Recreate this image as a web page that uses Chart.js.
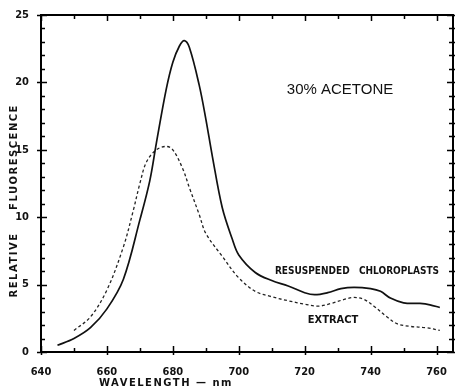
<!DOCTYPE html>
<html>
<head>
<meta charset="utf-8">
<script src="https://cdn.jsdelivr.net/npm/chart.js@4.4.1/dist/chart.umd.min.js"></script>
<style>
  html, body { margin: 0; padding: 0; background: #fff; }
  #wrap { width: 456px; height: 391px; }
</style>
</head>
<body>
<div id="wrap"><canvas id="myChart" width="456" height="391"></canvas></div>
<script>
// wavelengths (nm) and relative fluorescence
const chloroWave = [645, 650, 655, 660, 665, 670, 673, 675, 678, 680, 682, 683.5, 685, 688, 690, 692, 695, 698, 700, 705, 710, 715, 720, 723, 727, 731, 735, 740, 743, 746, 750, 755, 758, 761]
const chloroVals = [0.5, 1.0, 1.8, 3.2, 5.4, 9.8, 12.7, 15.5, 19.5, 21.5, 22.7, 23.1, 22.6, 19.8, 17.3, 14.5, 10.7, 8.4, 7.2, 5.9, 5.3, 4.9, 4.4, 4.25, 4.4, 4.7, 4.8, 4.7, 4.5, 4.0, 3.65, 3.6, 3.5, 3.3]

const extractWave = [650, 655, 660, 665, 668, 670, 672, 675, 678, 680, 683, 685, 688, 690, 695, 700, 705, 710, 715, 720, 724, 728, 732, 735, 738, 741, 745, 748, 752, 757, 761]
const extractVals = [1.6, 2.6, 4.6, 7.8, 10.5, 12.5, 14.1, 15.0, 15.25, 15.0, 13.6, 12.2, 10.2, 8.8, 7.1, 5.5, 4.5, 4.1, 3.8, 3.55, 3.4, 3.6, 3.9, 4.05, 3.9, 3.4, 2.6, 2.1, 1.9, 1.8, 1.6]

const xTicks = [640, 660, 680, 700, 720, 740, 760]
const yTicks = [0, 5, 10, 15, 20, 25]

const toPoints = (xs, ys) => xs.map((x, i) => ({x: x, y: ys[i]}))

// frame, inward ticks and the lettering
const frameAndText = {
  id: "frameAndText",
  afterDraw(chart) {
    const c = chart.ctx
    const a = chart.chartArea
    const xs = chart.scales.x
    const ys = chart.scales.y
    c.save()
    c.strokeStyle = "#000"
    c.lineWidth = 2
    c.strokeRect(a.left, a.top, a.right - a.left, a.bottom - a.top)

    c.lineWidth = 1.5
    c.beginPath()
    for (let v = 640; v <= 760; v += 10) {
      const px = Math.round(xs.getPixelForValue(v)) + 0.5
      const major = v % 20 === 0
      c.moveTo(px, a.bottom + (major ? 3 : 0))
      c.lineTo(px, a.bottom - (major ? 6 : 4))
      c.moveTo(px, a.top - 1)
      c.lineTo(px, a.top + (major ? 6 : 4))
    }
    for (let v = 0; v <= 25; v += 1) {
      const py = Math.round(ys.getPixelForValue(v)) + 0.5
      const major = v % 5 === 0
      c.moveTo(a.left - (major ? 4 : 0), py)
      c.lineTo(a.left + (major ? 6 : 4), py)
      c.moveTo(a.right + 2, py)
      c.lineTo(a.right - (major ? 6 : 4), py)
    }
    c.stroke()

    c.fillStyle = "#111"
    c.textBaseline = "middle"
    c.textAlign = "center"
    c.font = "15px 'Liberation Sans'"
    c.fillText("30% ACETONE", 340, 90)

    c.font = "bold 10px 'DejaVu Sans Condensed', 'DejaVu Sans'"
    c.fillText("RESUSPENDED   CHLOROPLASTS", 357, 271)
    c.font = "bold 11px 'DejaVu Sans Condensed', 'DejaVu Sans'"
    c.fillText("EXTRACT", 333, 320)

    c.letterSpacing = "1.5px"
    c.font = "bold 10px 'DejaVu Sans'"
    c.fillText("WAVELENGTH \u2014 nm", 166, 383)

    c.translate(14, 0)
    c.rotate(-Math.PI / 2)
    c.fillText("RELATIVE", -265, 0)
    c.fillText("FLUORESCENCE", -157, 0)
    c.restore()
  }
}

const ctx = document.getElementById("myChart")

new Chart(ctx, {
  type: "line",
  data: {
    datasets: [{
      label: "Resuspended chloroplasts",
      data: toPoints(chloroWave, chloroVals),
      borderColor: "#111",
      borderWidth: 1.7,
      pointRadius: 0,
      tension: 0.35,
      fill: false
    }, {
      label: "Extract",
      data: toPoints(extractWave, extractVals),
      borderColor: "#222",
      borderWidth: 1.3,
      borderDash: [3, 2.5],
      pointRadius: 0,
      tension: 0.35,
      fill: false
    }]
  },
  options: {
    responsive: false,
    animation: false,
    layout: { padding: { left: 0, right: 3, top: 15, bottom: 0 } },
    plugins: {
      legend: { display: false },
      tooltip: { enabled: false }
    },
    scales: {
      x: {
        type: "linear",
        min: 640,
        max: 765,
        afterFit: s => { s.height = 39; s.paddingLeft = 0; s.paddingRight = 0 },
        afterBuildTicks: s => { s.ticks = xTicks.map(v => ({value: v})) },
        grid: { display: false },
        border: { display: false },
        ticks: {
          color: "#111",
          padding: 6,
          maxRotation: 0,
          font: { family: "'DejaVu Sans Condensed', 'DejaVu Sans'", size: 11, weight: "bold" }
        }
      },
      y: {
        min: 0,
        max: 25,
        afterFit: s => { s.width = 41 },
        afterBuildTicks: s => { s.ticks = yTicks.map(v => ({value: v})) },
        grid: { display: false },
        border: { display: false },
        ticks: {
          color: "#111",
          padding: 4,
          font: { family: "'DejaVu Sans Condensed', 'DejaVu Sans'", size: 11, weight: "bold" }
        }
      }
    }
  },
  plugins: [frameAndText]
})
</script>
</body>
</html>
